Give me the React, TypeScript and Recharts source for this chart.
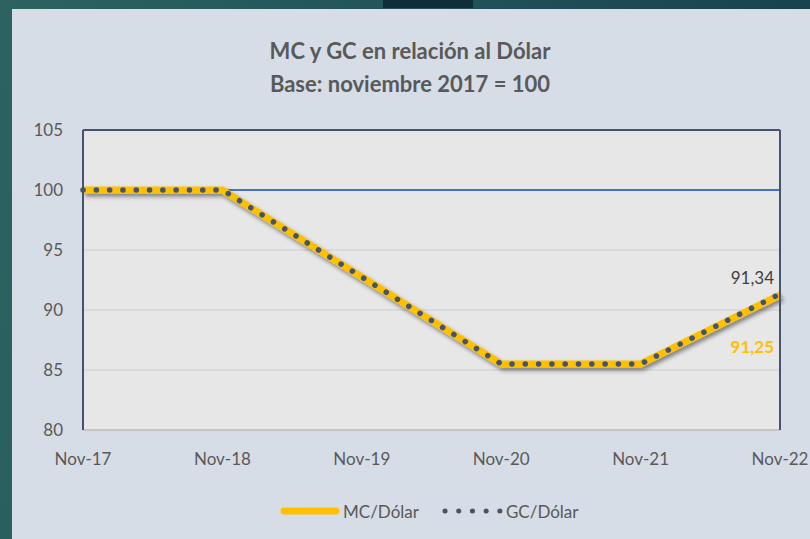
import React from 'react';
import { LineChart, Line, XAxis, YAxis, CartesianGrid, ReferenceLine, LabelList } from 'recharts';

const periods = ['Nov-17', 'Nov-18', 'Nov-19', 'Nov-20', 'Nov-21', 'Nov-22'];
const mcDolar = [100, 100, 92.75, 85.5, 85.5, 91.25];
const gcDolar = [100, 100, 92.75, 85.5, 85.5, 91.34];
const yTicks = [80, 85, 90, 95, 100, 105];

const data = periods.map((p, i) => ({ name: p, mc: mcDolar[i], gc: gcDolar[i] }));

const FONT = 'Lato, "Open Sans", sans-serif';
const GREY = '#595959';

const lastLabel = (color: string, dy: number, bold: boolean) => (props: any) => {
  const { x, y, index, value } = props;
  if (index !== data.length - 1) return null;
  return (
    <text x={x - 6} y={y + dy} textAnchor="end" fill={color} fontSize={17}
      fontWeight={bold ? 700 : 400} fontFamily={FONT}>
      {String(value).replace('.', ',')}
    </text>
  );
};

export default function App() {
  return (
    <div style={{ position: 'fixed', left: 0, top: 0, width: 810, height: 539, overflow: 'hidden',
      background: 'linear-gradient(100deg, #2c6360 0%, #21525a 50%, #173e4c 100%)' }}>
      <div style={{ position: 'absolute', left: 383, top: 0, width: 90, height: 8, background: '#0f2e3a' }} />
      <div style={{ position: 'absolute', left: 12, top: 9, width: 798, height: 530, background: '#d6dde6' }}>
        <div style={{ position: 'absolute', top: 25, left: 0, width: 796, textAlign: 'center', fontFamily: FONT,
          fontWeight: 700, fontSize: 22, color: GREY, lineHeight: '33px' }}>
          <div>MC y GC en relación al Dólar</div>
          <div>Base: noviembre 2017 = 100</div>
        </div>
        <LineChart width={798} height={530} data={data}
          margin={{ top: 121, right: 29, left: 21, bottom: 69 }}>
          <defs>
            <filter id="shadow" x="-5%" y="-20%" width="110%" height="140%">
              <feDropShadow dx="2" dy="3" stdDeviation="2" floodColor="#000" floodOpacity="0.45" />
            </filter>
          </defs>
          <CartesianGrid vertical={false} fill="#e7e7e7" stroke="#d6d6d6" strokeWidth={1.5} />
          <XAxis dataKey="name" axisLine={{ stroke: '#bfbfbf', strokeWidth: 1.5 }} tickLine={false}
            tick={{ fill: GREY, fontSize: 17, fontFamily: FONT }} tickMargin={17} height={40}
            interval={0} padding={{ left: 0, right: 0 }} />
          <YAxis domain={[80, 105]} ticks={yTicks} axisLine={{ stroke: '#44546a', strokeWidth: 2 }}
            tickLine={false} tick={{ fill: GREY, fontSize: 17, fontFamily: FONT }} width={50} tickMargin={14} />
          <YAxis yAxisId="r" orientation="right" domain={[80, 105]} ticks={yTicks} tick={false}
            axisLine={{ stroke: '#44546a', strokeWidth: 2 }} tickLine={false} width={1} />
          <ReferenceLine y={105} stroke="#44546a" strokeWidth={2} />
          <ReferenceLine y={100} stroke="#4472c4" strokeWidth={2} />
          <Line dataKey="mc" name="MC/Dólar" stroke="#ffc000" strokeWidth={7} dot={false}
            filter="url(#shadow)" isAnimationActive={false}>
            <LabelList dataKey="mc" content={lastLabel('#ffc000', 58, true)} />
          </Line>
          <Line dataKey="gc" name="GC/Dólar" stroke="#44546a" strokeWidth={5.5} strokeDasharray="0.1 13.2"
            strokeLinecap="round" dot={false} isAnimationActive={false}>
            <LabelList dataKey="gc" content={lastLabel('#404040', -10, false)} />
          </Line>
        </LineChart>
        <div style={{ position: 'absolute', top: 491, left: 268, height: 22, display: 'flex',
          alignItems: 'center', fontFamily: FONT, fontSize: 17, color: GREY }}>
          <svg width={60} height={10}>
            <line x1={4} y1={5} x2={56} y2={5} stroke="#ffc000" strokeWidth={7} strokeLinecap="round" />
          </svg>
          <span style={{ marginLeft: 3 }}>MC/Dólar</span>
          <svg width={64} height={10} style={{ marginLeft: 22 }}>
            <line x1={4} y1={5} x2={62} y2={5} stroke="#44546a" strokeWidth={5} strokeLinecap="round"
              strokeDasharray="0.1 13.6" />
          </svg>
          <span style={{ marginLeft: 1 }}>GC/Dólar</span>
        </div>
      </div>
    </div>
  );
}
